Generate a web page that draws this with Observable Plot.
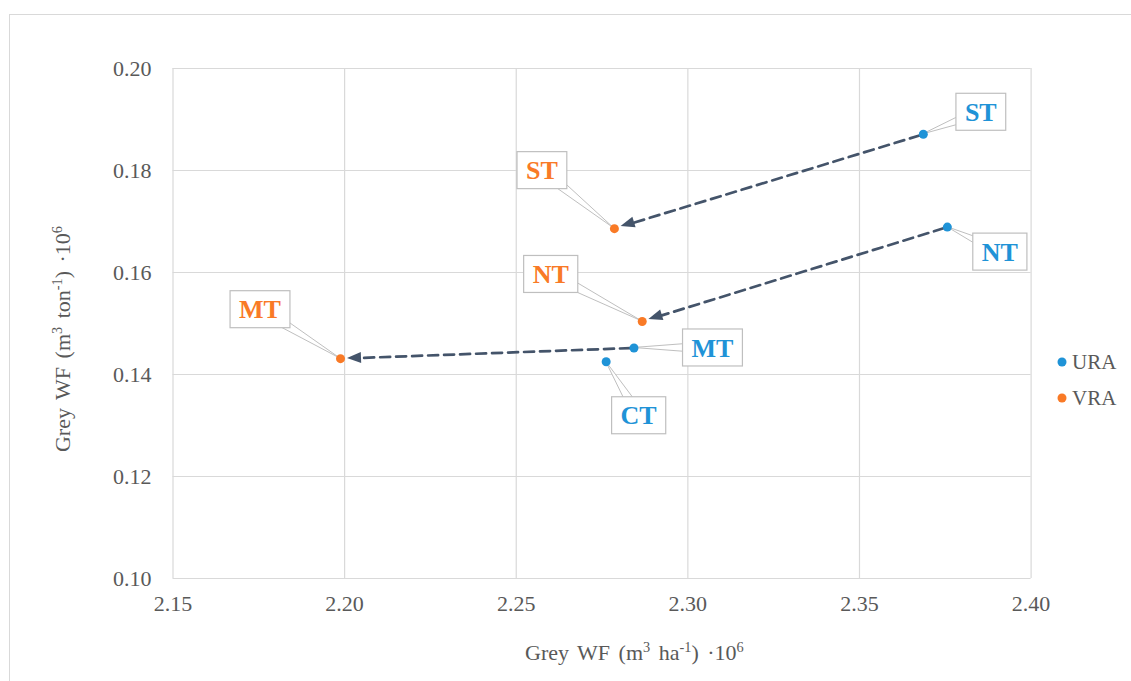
<!DOCTYPE html>
<html><head><meta charset="utf-8">
<script src="https://cdn.jsdelivr.net/npm/d3@7"></script>
<script src="https://cdn.jsdelivr.net/npm/@observablehq/plot@0.6"></script>
<style>
body{margin:0;background:#fff;}
#wrap{position:relative;width:1131px;height:681px;overflow:hidden;background:#fff;}
#frame{position:absolute;left:9px;top:14px;width:1300px;height:900px;border:1px solid #d9d9d9;box-sizing:border-box;}
#chart{position:absolute;left:0;top:0;}
#chart svg, #chart svg text{font-family:'Liberation Serif','Times New Roman',serif !important;}
</style></head><body>
<div id="wrap"><div id="frame"></div><div id="chart"></div></div>
<script>
// ---- data ----
const seriesNames = ["URA", "VRA"];
const uraLabels = ["ST", "NT", "MT", "CT"];
const uraX = [2.3686, 2.3756, 2.2843, 2.2762];
const uraY = [0.1871, 0.1689, 0.1452, 0.1425];
const vraLabels = ["ST", "NT", "MT"];
const vraX = [2.2786, 2.2867, 2.1988];
const vraY = [0.1686, 0.1504, 0.1431];
const xTicks = [2.15, 2.20, 2.25, 2.30, 2.35, 2.40];
const yTicks = [0.10, 0.12, 0.14, 0.16, 0.18, 0.20];
const xTitleParts = [["Grey WF (m", false], ["3", true], [" ha", false], ["-1", true], [") ·10", false], ["6", true]];
const yTitleParts = [["Grey WF (m", false], ["3", true], [" ton", false], ["-1", true], [") ·10", false], ["6", true]];

// ---- styling ----
const colors = {URA: "#1f93d7", VRA: "#f97a26"};
const arrowColor = "#44546a";
const serif = "'Liberation Serif', 'Times New Roman', serif";
// callout box centre offsets (px) from the point
const calloutOffset = {
  URA: {ST: [58, -22], NT: [53, 25], MT: [79, 0], CT: [33, 54]},
  VRA: {ST: [-72, -58], NT: [-91, -47], MT: [-80, -49]}
};

const points = [
  ...uraLabels.map((t, i) => ({series: "URA", t, x: uraX[i], y: uraY[i]})),
  ...vraLabels.map((t, i) => ({series: "VRA", t, x: vraX[i], y: vraY[i]}))
];
const links = vraLabels.map((t) => {
  const i = uraLabels.indexOf(t), j = vraLabels.indexOf(t);
  return {t, x1: uraX[i], y1: uraY[i], x2: vraX[j], y2: vraY[j]};
});

const ctx = document.createElement("canvas").getContext("2d");
ctx.font = "bold 26px " + serif;

function arrowHeads(index, scales) {
  const g = d3.create("svg:g");
  for (const l of links) {
    const x1 = scales.x(l.x1), y1 = scales.y(l.y1), x2 = scales.x(l.x2), y2 = scales.y(l.y2);
    const L = Math.hypot(x2 - x1, y2 - y1), ux = (x2 - x1) / L, uy = (y2 - y1) / L;
    const tx = x2 - ux * 7, ty = y2 - uy * 7;
    const bx = tx - ux * 14, by = ty - uy * 14;
    const nx = -uy, ny = ux, hw = 5.5;
    g.append("path")
      .attr("d", `M${tx},${ty}L${bx + nx * hw},${by + ny * hw}L${bx - nx * hw},${by - ny * hw}Z`)
      .attr("fill", arrowColor);
  }
  return g.node();
}

function callouts(index, scales) {
  const g = d3.create("svg:g");
  for (const p of points) {
    const px = scales.x(p.x), py = scales.y(p.y);
    const [ox, oy] = calloutOffset[p.series][p.t];
    const cx = px + ox, cy = py + oy;
    const w = ctx.measureText(p.t).width + 18, h = 37;
    const ang = Math.atan2(py - cy, px - cx);
    const nx = -Math.sin(ang), ny = Math.cos(ang), hw = 6;
    g.append("path")
      .attr("d", `M${cx + nx * hw},${cy + ny * hw}L${px},${py}L${cx - nx * hw},${cy - ny * hw}Z`)
      .attr("fill", "#fff").attr("stroke", "#bfbfbf").attr("stroke-width", 1);
    g.append("rect")
      .attr("x", cx - w / 2).attr("y", cy - h / 2).attr("width", w).attr("height", h)
      .attr("fill", "#fff").attr("stroke", "#bfbfbf").attr("stroke-width", 1.2);
    g.append("text")
      .attr("x", cx).attr("y", cy).attr("dy", "0.35em")
      .attr("text-anchor", "middle")
      .attr("font-family", serif).attr("font-weight", "bold").attr("font-size", 26)
      .attr("fill", colors[p.series]).text(p.t);
  }
  return g.node();
}

function addTitle(sel, parts) {
  for (const [s, sup] of parts) {
    const ts = sel.append("tspan").text(s);
    if (sup) ts.attr("baseline-shift", "super").attr("font-size", "65%");
  }
}

function decorations(index, scales, values, dims) {
  const g = d3.create("svg:g").attr("font-family", serif).attr("fill", "#595959");
  const xt = g.append("text").attr("x", 525).attr("y", 660).attr("font-size", 22)
    .attr("text-anchor", "start").attr("word-spacing", 3);
  addTitle(xt, xTitleParts);
  const yt = g.append("text").attr("transform", "translate(63,339) rotate(-90)")
    .attr("text-anchor", "middle").attr("dy", "0.32em").attr("font-size", 22).attr("word-spacing", 3);
  addTitle(yt, yTitleParts);
  seriesNames.forEach((s, i) => {
    const y = 362 + i * 36;
    g.append("circle").attr("cx", 1062).attr("cy", y).attr("r", 4.5).attr("fill", colors[s]);
    g.append("text").attr("x", 1072).attr("y", y).attr("dy", "0.35em").attr("font-size", 21)
      .attr("text-anchor", "start").text(s);
  });
  return g.node();
}

const chart = Plot.plot({
  width: 1131,
  height: 681,
  marginLeft: 172.5,
  marginRight: 100.4,
  marginTop: 68,
  marginBottom: 103,
  style: {fontFamily: serif, background: "transparent"},
  x: {domain: [2.15, 2.40]},
  y: {domain: [0.10, 0.20]},
  marks: [
    Plot.gridX(xTicks, {stroke: "#d9d9d9", strokeOpacity: 1, strokeWidth: 1.2}),
    Plot.gridY(yTicks, {stroke: "#d9d9d9", strokeOpacity: 1, strokeWidth: 1.2}),
    Plot.axisX(xTicks, {tickSize: 0, tickPadding: 17, tickFormat: d3.format(".2f"), fontSize: 22,
      fontFamily: serif, color: "#595959", label: null}),
    Plot.axisY(yTicks, {tickSize: 0, tickPadding: 21.5, tickFormat: d3.format(".2f"), fontSize: 22,
      fontFamily: serif, color: "#595959", label: null}),
    Plot.arrow(links, {x1: "x1", y1: "y1", x2: "x2", y2: "y2", stroke: arrowColor, strokeWidth: 2.7,
      strokeDasharray: "10,6", headLength: 0, insetStart: 4, insetEnd: 18}),
    arrowHeads,
    callouts,
    Plot.dot(points, {x: "x", y: "y", r: 4.5, fill: (d) => colors[d.series]}),
    decorations
  ]
});
document.getElementById("chart").appendChild(chart);
</script>
</body></html>
